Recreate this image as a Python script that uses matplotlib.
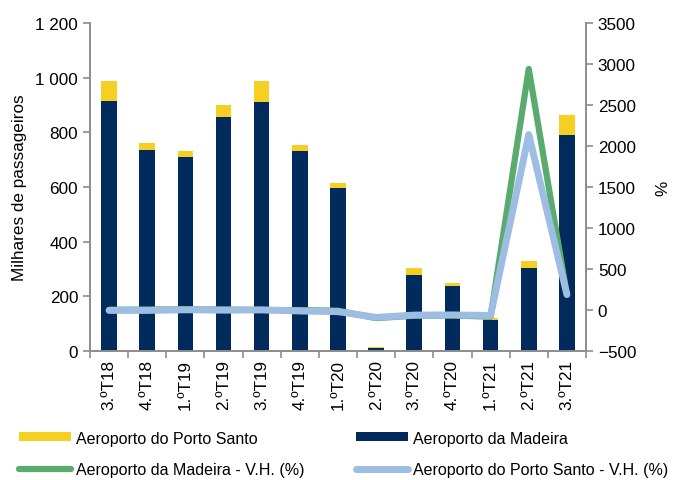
import numpy as np
import matplotlib
matplotlib.use('Agg')
import matplotlib.pyplot as plt
from matplotlib.ticker import FuncFormatter, FixedLocator

plt.rcParams['font.family'] = ['Liberation Sans', 'DejaVu Sans']

# dados (milhares de passageiros e variação homóloga em %)
trimestres = ['3.ºT18', '4.ºT18', '1.ºT19', '2.ºT19', '3.ºT19', '4.ºT19', '1.ºT20',
              '2.ºT20', '3.ºT20', '4.ºT20', '1.ºT21', '2.ºT21', '3.ºT21']
madeira = [916, 735, 709, 857, 910, 732, 598, 10, 279, 239, 115, 305, 790]
porto_santo = [72, 26, 23, 43, 78, 23, 18, 3, 26, 9, 6, 24, 74]
vh_madeira = [3, 5, 8, 6, -1, -1, -9, -99, -69, -67, -81, 2940, 183]
vh_porto_santo = [-5, -5, 3, -2, 2, -12, -20, -90, -62, -60, -67, 2140, 190]

cor_navy = '#002b5c'
cor_amarelo = '#f5d023'
cor_verde = '#5aab6e'
cor_azul = '#9dbde3'
cinza = '#8c8c8c'

fig = plt.figure(figsize=(6.73, 4.81), dpi=100)
ax = fig.add_axes([0.1337, 0.2682, 0.737, 0.6818])
x = np.arange(len(trimestres))

b1 = ax.bar(x, madeira, width=0.41, color=cor_navy, label='Aeroporto da Madeira', zorder=2)
b2 = ax.bar(x, porto_santo, width=0.41, bottom=madeira, color=cor_amarelo,
            label='Aeroporto do Porto Santo', zorder=2)

ax.set_xlim(-0.5, len(trimestres) - 0.5)
ax.set_ylim(0, 1200)
ax.set_yticks(range(0, 1201, 200))
ax.yaxis.set_major_formatter(FuncFormatter(lambda v, p: f'{int(v):,}'.replace(',', ' ')))
ax.set_xticks(x)
ax.set_xticklabels(trimestres, rotation=90, fontsize=12.3)
ax.xaxis.set_minor_locator(FixedLocator(np.arange(-0.5, len(trimestres), 1)))
ax.tick_params(axis='x', which='major', length=0, pad=6)
ax.tick_params(axis='x', which='minor', length=5, color=cinza, width=1.2)
ax.tick_params(axis='y', length=5, color=cinza, width=1.2, labelsize=12.3)
ax.set_ylabel('Milhares de passageiros', fontsize=12.3, labelpad=6)

ax2 = ax.twinx()
l1, = ax2.plot(x, vh_madeira, color=cor_verde, lw=4.5, solid_capstyle='round',
               solid_joinstyle='round', label='Aeroporto da Madeira - V.H. (%)', zorder=3)
l2, = ax2.plot(x, vh_porto_santo, color=cor_azul, lw=5, solid_capstyle='round',
               solid_joinstyle='round', label='Aeroporto do Porto Santo - V.H. (%)', zorder=4)
ax2.set_ylim(-500, 3500)
ax2.set_yticks(range(-500, 3501, 500))
ax2.tick_params(axis='y', length=5, color=cinza, width=1.2, labelsize=12.3)
ax2.set_ylabel('%', fontsize=12.3, labelpad=14)

for a in (ax, ax2):
    a.spines['top'].set_visible(False)
    for s in ('left', 'right', 'bottom'):
        a.spines[s].set_color(cinza)
        a.spines[s].set_linewidth(1.2)

fig.legend([b2, l1, b1, l2],
           ['Aeroporto do Porto Santo', 'Aeroporto da Madeira - V.H. (%)',
            'Aeroporto da Madeira', 'Aeroporto do Porto Santo - V.H. (%)'],
           ncol=2, loc='upper left', bbox_to_anchor=(0.018, 0.116), frameon=False,
           fontsize=11.5, handlelength=3.3, handleheight=0.5, columnspacing=3.2,
           labelspacing=1.05, handletextpad=0.3, borderaxespad=0)

fig.savefig('out.png', dpi=100)
